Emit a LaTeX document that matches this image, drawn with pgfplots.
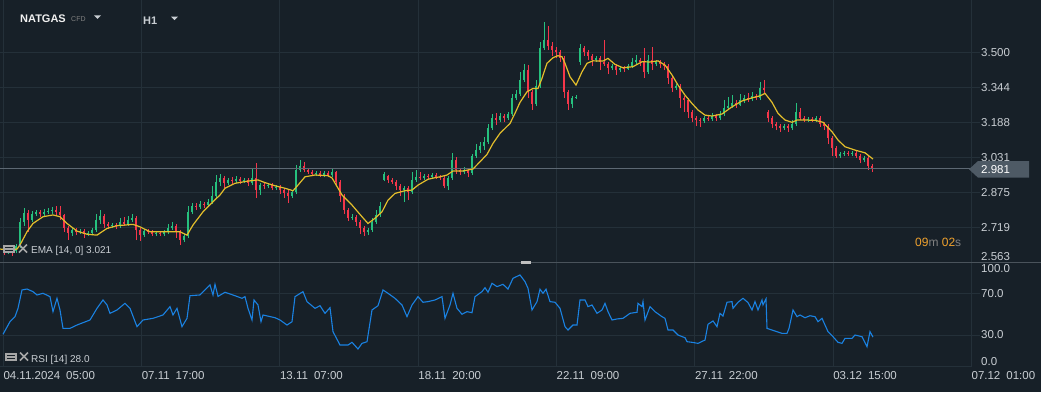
\documentclass[border=0pt]{standalone}
\usepackage{pgfplots}
\usepackage{pgfplotstable}
\pgfplotsset{compat=1.18}
\usepackage{fontspec}
\setmainfont{Liberation Sans}
\definecolor{bg}{HTML}{172028}
\definecolor{gridc}{HTML}{243039}
\definecolor{sepc}{HTML}{4A535B}
\definecolor{txt}{HTML}{C9CED3}
\definecolor{upc}{HTML}{26C07E}
\definecolor{dnc}{HTML}{F5364A}
\definecolor{emac}{HTML}{E3BE2B}
\definecolor{rsic}{HTML}{1A82E2}
\definecolor{pline}{HTML}{5D6873}
\definecolor{tagc}{HTML}{4E5A65}
\definecolor{orng}{HTML}{F0A22E}
\newcommand{\tf}{\fontsize{11.5}{13}\selectfont}
\newcommand{\lf}{\fontsize{10}{12}\selectfont}

\pgfplotstableread{
x o h l c
4 2.619 2.636 2.596 2.610
8 2.610 2.632 2.601 2.623
12 2.623 2.632 2.592 2.614
16 2.614 2.645 2.605 2.636
20 2.636 2.761 2.627 2.743
24 2.743 2.806 2.726 2.783
28 2.783 2.797 2.699 2.752
32 2.752 2.792 2.743 2.779
36 2.779 2.797 2.770 2.788
40 2.788 2.797 2.766 2.779
44 2.779 2.801 2.770 2.788
48 2.788 2.806 2.779 2.792
52 2.792 2.810 2.779 2.797
56 2.797 2.815 2.770 2.788
60 2.788 2.815 2.752 2.775
64 2.775 2.779 2.699 2.717
68 2.717 2.726 2.663 2.694
72 2.694 2.721 2.681 2.708
76 2.708 2.717 2.685 2.699
80 2.699 2.712 2.690 2.703
84 2.703 2.712 2.672 2.690
88 2.690 2.703 2.681 2.694
92 2.694 2.717 2.685 2.708
96 2.708 2.779 2.699 2.752
100 2.752 2.797 2.734 2.770
104 2.770 2.779 2.717 2.734
108 2.734 2.743 2.712 2.726
112 2.726 2.739 2.717 2.730
116 2.730 2.739 2.712 2.726
120 2.726 2.761 2.717 2.743
124 2.743 2.766 2.726 2.734
128 2.734 2.770 2.726 2.752
132 2.752 2.779 2.743 2.761
136 2.761 2.770 2.663 2.708
140 2.708 2.717 2.659 2.685
144 2.685 2.712 2.676 2.703
148 2.703 2.712 2.690 2.699
152 2.699 2.708 2.681 2.690
156 2.690 2.703 2.681 2.694
160 2.694 2.703 2.681 2.690
164 2.690 2.708 2.681 2.699
168 2.699 2.734 2.690 2.717
172 2.717 2.743 2.708 2.726
176 2.726 2.734 2.672 2.699
180 2.699 2.708 2.641 2.663
184 2.663 2.690 2.654 2.681
188 2.681 2.815 2.672 2.788
192 2.788 2.828 2.779 2.815
196 2.815 2.828 2.797 2.810
200 2.810 2.837 2.801 2.824
204 2.824 2.832 2.806 2.819
208 2.819 2.846 2.810 2.832
212 2.832 2.904 2.824 2.859
216 2.859 2.953 2.850 2.922
220 2.922 2.957 2.904 2.940
224 2.940 2.948 2.895 2.917
228 2.917 2.940 2.908 2.931
232 2.931 2.944 2.913 2.926
236 2.926 2.948 2.917 2.935
240 2.935 2.944 2.913 2.926
244 2.926 2.940 2.917 2.931
248 2.931 2.940 2.904 2.917
252 2.917 2.984 2.908 2.940
256 2.940 3.006 2.850 2.886
260 2.886 2.917 2.864 2.908
264 2.908 2.917 2.890 2.904
268 2.904 2.917 2.895 2.908
272 2.908 2.917 2.886 2.895
276 2.895 2.908 2.886 2.899
280 2.899 2.908 2.868 2.886
284 2.886 2.895 2.850 2.873
288 2.873 2.886 2.828 2.859
292 2.859 2.886 2.850 2.877
296 2.877 2.997 2.868 2.975
300 2.975 3.020 2.966 2.993
304 2.993 3.011 2.966 2.975
308 2.975 2.984 2.957 2.966
312 2.966 2.975 2.948 2.957
316 2.957 2.971 2.948 2.962
320 2.962 2.971 2.944 2.953
324 2.953 2.971 2.944 2.962
328 2.962 2.971 2.944 2.953
332 2.953 2.980 2.944 2.966
336 2.966 2.971 2.904 2.922
340 2.922 2.931 2.832 2.859
344 2.859 2.868 2.779 2.797
348 2.797 2.806 2.748 2.761
352 2.761 2.779 2.752 2.766
356 2.766 2.775 2.726 2.743
360 2.743 2.752 2.690 2.717
364 2.717 2.726 2.681 2.699
368 2.699 2.717 2.685 2.708
372 2.708 2.761 2.699 2.743
376 2.743 2.797 2.734 2.775
380 2.775 2.832 2.766 2.815
384 2.931 2.966 2.926 2.957
388 2.948 2.953 2.917 2.931
392 2.931 2.940 2.913 2.922
396 2.922 2.931 2.886 2.904
400 2.904 2.913 2.859 2.886
404 2.886 2.904 2.832 2.895
408 2.895 2.904 2.841 2.877
412 2.877 2.966 2.868 2.931
416 2.931 2.975 2.922 2.944
420 2.944 2.966 2.931 2.940
424 2.940 2.957 2.931 2.948
428 2.948 2.957 2.935 2.944
432 2.944 2.962 2.935 2.953
436 2.953 2.962 2.935 2.944
440 2.944 2.953 2.931 2.940
444 2.940 2.948 2.895 2.904
448 2.904 2.948 2.886 2.940
452 2.940 3.051 2.931 3.020
456 3.020 3.033 2.957 2.975
460 2.975 2.984 2.953 2.966
464 2.966 2.988 2.957 2.975
468 2.975 2.984 2.944 2.962
472 2.962 3.047 2.953 3.038
476 3.038 3.091 3.029 3.064
480 3.064 3.100 3.051 3.082
484 3.082 3.122 3.064 3.100
488 3.100 3.180 3.091 3.162
492 3.162 3.225 3.153 3.207
496 3.207 3.229 3.176 3.198
500 3.198 3.229 3.189 3.216
504 3.216 3.225 3.189 3.207
508 3.207 3.234 3.198 3.225
512 3.225 3.314 3.216 3.296
516 3.296 3.332 3.287 3.314
520 3.314 3.412 3.305 3.376
524 3.376 3.448 3.367 3.421
528 3.421 3.443 3.296 3.323
532 3.323 3.332 3.243 3.269
536 3.269 3.376 3.260 3.350
540 3.350 3.546 3.341 3.519
544 3.519 3.635 3.510 3.555
548 3.555 3.617 3.510 3.528
552 3.528 3.546 3.483 3.510
556 3.510 3.523 3.474 3.501
560 3.501 3.510 3.457 3.474
564 3.474 3.483 3.296 3.323
568 3.323 3.332 3.243 3.269
572 3.269 3.305 3.252 3.296
576 3.296 3.309 3.292 3.301
580 3.457 3.537 3.443 3.519
584 3.519 3.528 3.483 3.501
588 3.501 3.510 3.466 3.483
592 3.483 3.492 3.439 3.466
596 3.466 3.483 3.457 3.474
600 3.474 3.483 3.421 3.457
604 3.457 3.555 3.439 3.448
608 3.448 3.457 3.403 3.430
612 3.430 3.448 3.421 3.439
616 3.439 3.448 3.399 3.421
620 3.421 3.439 3.412 3.430
624 3.430 3.439 3.412 3.425
628 3.425 3.448 3.421 3.439
632 3.439 3.474 3.430 3.457
636 3.457 3.488 3.448 3.466
640 3.466 3.474 3.439 3.457
644 3.457 3.519 3.385 3.412
648 3.412 3.488 3.403 3.466
652 3.466 3.523 3.421 3.448
656 3.448 3.466 3.439 3.457
660 3.457 3.466 3.430 3.448
664 3.448 3.457 3.421 3.439
668 3.439 3.448 3.359 3.385
672 3.385 3.394 3.323 3.341
676 3.341 3.359 3.332 3.350
680 3.350 3.359 3.252 3.296
684 3.296 3.305 3.234 3.287
688 3.287 3.296 3.207 3.234
692 3.234 3.243 3.189 3.207
696 3.207 3.216 3.171 3.198
700 3.198 3.207 3.167 3.194
704 3.194 3.216 3.185 3.207
708 3.207 3.220 3.194 3.202
712 3.202 3.229 3.194 3.216
716 3.216 3.225 3.194 3.207
720 3.207 3.238 3.198 3.225
724 3.225 3.287 3.216 3.252
728 3.252 3.301 3.243 3.260
732 3.260 3.309 3.252 3.274
736 3.274 3.287 3.252 3.265
740 3.265 3.314 3.260 3.287
744 3.287 3.309 3.274 3.296
748 3.296 3.318 3.278 3.292
752 3.292 3.323 3.283 3.305
756 3.305 3.314 3.287 3.296
760 3.296 3.367 3.287 3.341
764 3.341 3.376 3.318 3.332
768 3.234 3.243 3.189 3.207
772 3.207 3.216 3.162 3.180
776 3.180 3.189 3.153 3.171
780 3.171 3.180 3.145 3.162
784 3.162 3.180 3.153 3.171
788 3.171 3.180 3.145 3.162
792 3.162 3.198 3.153 3.180
796 3.180 3.274 3.171 3.234
800 3.234 3.252 3.198 3.207
804 3.207 3.216 3.189 3.198
808 3.198 3.211 3.189 3.202
812 3.202 3.211 3.189 3.198
816 3.198 3.216 3.189 3.207
820 3.207 3.216 3.167 3.180
824 3.180 3.189 3.153 3.171
828 3.171 3.180 3.091 3.118
832 3.118 3.127 3.038 3.073
836 3.073 3.082 3.029 3.038
840 3.038 3.055 3.029 3.047
844 3.047 3.060 3.038 3.051
848 3.051 3.060 3.038 3.047
852 3.047 3.060 3.038 3.051
856 3.051 3.060 3.029 3.038
860 3.038 3.047 3.006 3.020
864 3.020 3.038 3.011 3.029
868 3.029 3.038 2.975 2.993
872 2.993 3.002 2.966 2.981
}\candles

\begin{document}
\begin{tikzpicture}
\path[use as bounding box] (0pt,0pt) rectangle (1041pt,-392pt);
\fill[bg] (0pt,0pt) rectangle (1041pt,-392pt);

% ---------------- price panel ----------------
\begin{axis}[
  at={(0pt,0pt)}, anchor=north west, scale only axis,
  width=972pt, height=262.6pt,
  xmin=0, xmax=972, ymin=2.5625, ymax=3.7332,
  axis line style={draw=none},
  xtick={3.3,141.6,279.9,418.2,556.5,694.8,833.1,971.4},
  xticklabels={,,,,,,,},
  ytick={2.71875,2.875,3.03125,3.1875,3.34375,3.5},
  yticklabels={2.719,2.875,3.031,3.188,3.344,3.500},
  ytick pos=right, xtick pos=bottom,
  grid=major, major grid style={gridc, line width=1pt},
  tick align=outside, major tick length=8pt,
  x tick style={draw=none},
  y tick style={gridc, line width=1pt},
  yticklabel style={font=\tf, text=txt, anchor=west, inner sep=1pt},
]
% wicks
\addplot[upc, line width=0.8pt,
  restrict expr to domain={\thisrow{c}-\thisrow{o}}{0:10},
  quiver={u=0, v=\thisrow{h}-\thisrow{l}}] table[x=x, y=l] {\candles};
\addplot[dnc, line width=0.8pt,
  restrict expr to domain={\thisrow{c}-\thisrow{o}}{-10:-0.0001},
  quiver={u=0, v=\thisrow{h}-\thisrow{l}}] table[x=x, y=l] {\candles};
% bodies
\addplot[upc, line width=2pt,
  restrict expr to domain={\thisrow{c}-\thisrow{o}}{0:10},
  quiver={u=0, v=\thisrow{c}-\thisrow{o}}] table[x=x, y=o] {\candles};
\addplot[dnc, line width=2pt,
  restrict expr to domain={\thisrow{c}-\thisrow{o}}{-10:-0.0001},
  quiver={u=0, v=\thisrow{c}-\thisrow{o}}] table[x=x, y=o] {\candles};
% current price line
\addplot[pline, line width=0.8pt] coordinates {(0,2.981) (972,2.981)};
% EMA
\addplot[emac, line width=1.2pt] coordinates {
(0,2.623) (10,2.619) (17,2.623) (20,2.641) (27,2.700) (33,2.737) (43,2.767) (53,2.775) (60,2.767) (67,2.737) (77,2.703) (87,2.689) (97,2.685) (107,2.715) (117,2.727) (133,2.733) (140,2.722) (150,2.700) (167,2.700) (180,2.700) (187,2.685) (193,2.730) (203,2.789) (213,2.834) (220,2.864) (225,2.894) (235,2.916) (248,2.926) (258,2.931) (265,2.919) (275,2.905) (285,2.894) (293,2.883) (298,2.908) (305,2.945) (315,2.953) (328,2.950) (332,2.940) (342,2.864) (352,2.819) (362,2.767) (368,2.737) (375,2.760) (382,2.789) (388,2.841) (395,2.871) (405,2.883) (412,2.886) (418,2.908) (428,2.934) (435,2.941) (440,2.945) (447,2.953) (453,2.971) (463,2.971) (473,2.980) (480,3.012) (487,3.045) (493,3.094) (500,3.139) (510,3.183) (515,3.228) (520,3.277) (527,3.324) (533,3.339) (538,3.339) (542,3.384) (547,3.451) (553,3.476) (558,3.485) (562,3.480) (565,3.451) (570,3.391) (576,3.354) (582,3.413) (587,3.451) (593,3.462) (603,3.461) (608,3.473) (615,3.446) (623,3.431) (633,3.436) (642,3.458) (650,3.457) (658,3.462) (665,3.443) (672,3.399) (678,3.354) (685,3.309) (692,3.272) (698,3.243) (705,3.220) (712,3.216) (722,3.225) (732,3.257) (742,3.283) (752,3.297) (760,3.306) (765,3.317) (772,3.277) (778,3.228) (785,3.198) (792,3.188) (797,3.198) (805,3.198) (815,3.197) (823,3.188) (832,3.146) (838,3.109) (845,3.079) (855,3.064) (865,3.052) (873,3.024)
};
\end{axis}

% ---------------- RSI panel ----------------
\begin{axis}[
  at={(0pt,-262pt)}, anchor=north west, scale only axis,
  width=972pt, height=104.3pt,
  xmin=0, xmax=972, ymin=0, ymax=100,
  axis line style={draw=none},
  xtick={3.3,141.6,279.9,418.2,556.5,694.8,833.1,971.4},
  xticklabels={04.11.2024\hspace{6pt}05:00, 07.11\hspace{6pt}17:00, 13.11\hspace{6pt}07:00, 18.11\hspace{6pt}20:00, 22.11\hspace{6pt}09:00, 27.11\hspace{6pt}22:00, 03.12\hspace{6pt}15:00, 07.12\hspace{6pt}01:00},
  ytick={30,70}, yticklabels={30.0,70.0},
  ytick pos=right, xtick pos=bottom,
  grid=major, major grid style={gridc, line width=1pt},
  tick align=outside, major tick length=8pt,
  x tick style={draw=none},
  y tick style={gridc, line width=1pt},
  yticklabel style={font=\tf, text=txt, anchor=west, inner sep=1pt},
  xticklabel style={font=\tf, text=txt, anchor=north west, inner sep=0pt, yshift=3.5pt},
]
\addplot[rsic, line width=1.1pt] coordinates {
(3,30.7) (10,42.8) (15,47.6) (18,55.6) (22,73.2) (27,74.1) (33,71.6) (37,68.4) (43,70) (50,66.8) (53,52.4) (57,65.2) (60,54) (63,36.4) (70,36.4) (77,39.6) (90,44.4) (97,55.6) (103,63.6) (107,58.8) (110,50.8) (117,54) (125,60.4) (130,55.6) (137,38) (143,44.4) (153,46) (163,49.2) (170,57.2) (173,49.2) (177,55.6) (182,38) (187,46) (190,67.7) (200,68.4) (210,78) (213,68.4) (215,78.6) (218,67) (225,71) (235,67.7) (242,65.2) (245,66.8) (248,55.6) (252,44.4) (254,63.6) (258,58.8) (261,42.8) (263,49.2) (275,46.6) (280,44.4) (287,39.6) (292,42.8) (295,66.8) (303,71.6) (307,62) (315,55.6) (320,58.1) (325,50.8) (330,56.2) (333,33.2) (340,20.4) (348,20.4) (352,23) (358,16.6) (362,22) (367,23.6) (372,54) (378,58.1) (383,73.2) (388,70) (395,65.2) (402,58.8) (407,47.6) (412,58.8) (418,66.8) (423,61.4) (428,62) (435,63.6) (442,66.8) (445,46) (450,58.8) (453,70) (457,55.6) (462,49.9) (467,52.4) (472,51.4) (475,66.8) (482,71.6) (485,75.4) (488,71) (492,79.6) (497,76.4) (503,78.6) (508,74.1) (513,84.4) (520,87.6) (525,81.2) (528,74.8) (532,54) (537,62) (540,73.9) (543,70) (546,73.9) (550,62) (555,61.4) (560,55.6) (565,38) (568,34.8) (573,39.6) (577,39.6) (580,63.6) (585,63.6) (588,57.2) (592,58.8) (597,50.8) (602,54) (605,60.4) (608,52.4) (612,44.4) (617,45.4) (623,46) (630,50.8) (637,51.8) (638,60.4) (642,57.2) (643,62) (645,44.4) (650,57.2) (655,52.4) (662,47.6) (665,46) (668,34.8) (673,34.8) (678,30) (685,27.4) (687,23.6) (692,23) (698,22) (705,25.2) (708,40.3) (713,43.5) (717,38) (720,50.8) (723,48.2) (727,61.4) (732,62) (733,55.6) (738,61.4) (743,65.2) (748,61.1) (752,54) (755,62) (758,54) (762,63.6) (763,58.8) (766,64.6) (767,36.4) (772,34.8) (777,33.2) (782,31.6) (787,31.6) (789,36.4) (793,54) (797,47.6) (800,49.2) (805,46.6) (810,48.5) (815,47.6) (818,42.8) (822,46) (828,33.2) (833,28.4) (838,23) (842,22) (845,26.8) (852,26.8) (855,30) (862,28.4) (867,18.8) (870,33.2) (873,28)
};
\end{axis}

% separators and frame lines
\draw[sepc, line width=1pt] (0pt,-262pt) -- (1041pt,-262pt);
\fill[black!25] (521pt,-260.8pt) rectangle (531pt,-263.6pt);
\draw[gridc, line width=1pt] (0pt,-366.3pt) -- (972pt,-366.3pt);

% extra axis labels
\node[anchor=west, inner sep=1pt, font=\tf, text=txt] at (980pt,-256.7pt) {2.563};
\node[anchor=west, inner sep=1pt, font=\tf, text=txt] at (980pt,-269pt) {100.0};
\node[anchor=west, inner sep=1pt, font=\tf, text=txt] at (980pt,-361.7pt) {0.0};

% current price tag
\fill[tagc] (969pt,-169.3pt) -- (978pt,-161pt) -- (1029pt,-161pt) -- (1029pt,-177.6pt) -- (978pt,-177.6pt) -- cycle;
\node[anchor=west, inner sep=1pt, font=\tf, text=white] at (980pt,-169.3pt) {2.981};

% title
\node[anchor=west, inner sep=0pt, font=\fontsize{11}{13}\selectfont\bfseries, text=white!88!gray] at (20pt,-18.7pt) {NATGAS};
\node[anchor=west, inner sep=0pt, font=\fontsize{7}{8}\selectfont, text=gray] at (71pt,-19pt) {CFD};
\fill[txt] (94pt,-15.3pt) -- (101pt,-15.3pt) -- (97.5pt,-18.8pt) -- cycle;
\node[anchor=west, inner sep=0pt, font=\fontsize{11}{13}\selectfont\bfseries, text=txt] at (143pt,-20.3pt) {H1};
\fill[txt] (171pt,-16.5pt) -- (178pt,-16.5pt) -- (174.5pt,-20pt) -- cycle;

% indicator legends
\fill[gray!70] (3pt,-244.5pt) rectangle (15pt,-252.5pt);
\draw[bg, line width=0.6pt] (5pt,-247pt) -- (13pt,-247pt) (5pt,-250pt) -- (13pt,-250pt);
\draw[gray!70, line width=1.6pt] (19pt,-244.5pt) -- (27pt,-252.5pt) (19pt,-252.5pt) -- (27pt,-244.5pt);
\node[anchor=west, inner sep=0pt, font=\lf, text=txt] at (31pt,-251pt) {EMA [14, 0] 3.021};

\fill[gray!70] (5pt,-352.5pt) rectangle (17pt,-360.5pt);
\draw[bg, line width=0.6pt] (7pt,-355pt) -- (15pt,-355pt) (7pt,-358pt) -- (15pt,-358pt);
\draw[gray!70, line width=1.6pt] (20pt,-352.5pt) -- (28pt,-360.5pt) (20pt,-360.5pt) -- (28pt,-352.5pt);
\node[anchor=west, inner sep=0pt, font=\lf, text=txt] at (31pt,-360pt) {RSI [14] 28.0};

% countdown
\node[anchor=west, inner sep=0pt, font=\fontsize{12}{14}\selectfont] at (915pt,-242pt) {\textcolor{orng}{09}\textcolor{gray}{m} \textcolor{orng}{02}\textcolor{gray}{s}};
\end{tikzpicture}
\end{document}
